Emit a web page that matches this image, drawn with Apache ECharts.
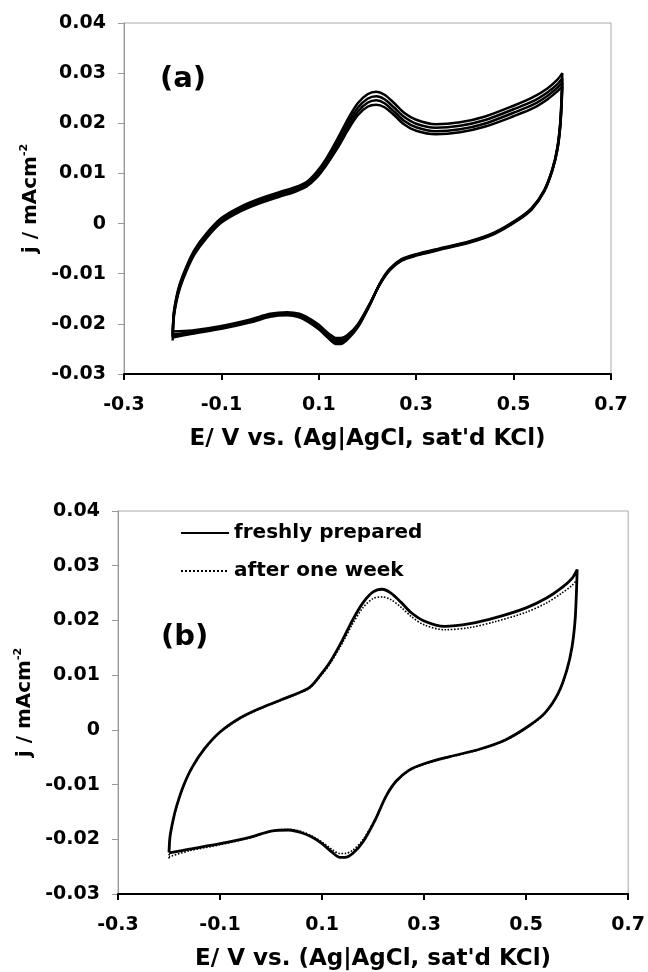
<!DOCTYPE html>
<html>
<head>
<meta charset="utf-8">
<script src="https://cdn.jsdelivr.net/npm/echarts@6/dist/echarts.min.js"></script>
<style>
html,body{margin:0;padding:0;background:#fff;}
#main{width:648px;height:972px;}
</style>
</head>
<body>
<div id="main"></div>
<script>
// Potential scan (V vs Ag|AgCl): anodic sweep -0.2 -> 0.6, then cathodic sweep 0.6 -> -0.2
var E_SCAN = [
  -0.200, -0.198, -0.192, -0.185, -0.172, -0.155, -0.130, -0.100, -0.060, -0.020, 0.020, 0.050, 0.075, 0.095, 0.115, 0.140,
  0.160, 0.180, 0.200, 0.218, 0.235, 0.255, 0.275, 0.300, 0.340, 0.390, 0.440, 0.500, 0.540, 0.570, 0.590, 0.600,
  0.599, 0.596, 0.590, 0.580, 0.563, 0.537, 0.505, 0.460, 0.410, 0.350, 0.300, 0.270, 0.245, 0.225, 0.205,
  0.180, 0.160, 0.145, 0.135, 0.120, 0.100, 0.080, 0.060, 0.035, 0.000, -0.040, -0.100, -0.160, -0.200
];

// Panel (a): repeated cycles, current density j (mA cm^-2)
var CYCLE_1 = [
  -0.0233, -0.0180, -0.0145, -0.0119, -0.0086, -0.0052, -0.0019, 0.0011, 0.0034, 0.0050, 0.0063, 0.0072, 0.0083, 0.0102, 0.0129, 0.0172,
  0.0209, 0.0240, 0.0258, 0.0263, 0.0257, 0.0240, 0.0221, 0.0207, 0.0198, 0.0202, 0.0213, 0.0235, 0.0252, 0.0270, 0.0287, 0.0300,
  0.0265, 0.0205, 0.0153, 0.0110, 0.0067, 0.0031, 0.0007, -0.0018, -0.0035, -0.0049, -0.0061, -0.0071, -0.0091, -0.0120, -0.0162,
  -0.0207, -0.0230, -0.0240, -0.0240, -0.0229, -0.0211, -0.0197, -0.0187, -0.0183, -0.0186, -0.0197, -0.0210, -0.0220, -0.0227
];
var CYCLE_2 = [
  -0.0227, -0.0183, -0.0148, -0.0122, -0.0089, -0.0055, -0.0022, 0.0008, 0.0031, 0.0047, 0.0060, 0.0069, 0.0080, 0.0098, 0.0124, 0.0165,
  0.0201, 0.0231, 0.0249, 0.0254, 0.0248, 0.0231, 0.0213, 0.0199, 0.0191, 0.0195, 0.0206, 0.0228, 0.0244, 0.0262, 0.0278, 0.0290,
  0.0258, 0.0201, 0.0151, 0.0109, 0.0066, 0.0030, 0.0006, -0.0019, -0.0036, -0.0050, -0.0062, -0.0072, -0.0092, -0.0121, -0.0161,
  -0.0205, -0.0227, -0.0236, -0.0236, -0.0226, -0.0208, -0.0194, -0.0185, -0.0181, -0.0184, -0.0195, -0.0208, -0.0218, -0.0224
];
var CYCLE_3 = [
  -0.0224, -0.0186, -0.0151, -0.0125, -0.0092, -0.0058, -0.0025, 0.0005, 0.0028, 0.0044, 0.0057, 0.0066, 0.0077, 0.0095, 0.0120, 0.0159,
  0.0194, 0.0223, 0.0241, 0.0246, 0.0240, 0.0223, 0.0205, 0.0192, 0.0184, 0.0188, 0.0199, 0.0221, 0.0237, 0.0255, 0.0271, 0.0281,
  0.0252, 0.0198, 0.0149, 0.0108, 0.0065, 0.0029, 0.0005, -0.0020, -0.0037, -0.0051, -0.0063, -0.0073, -0.0093, -0.0121, -0.0160,
  -0.0203, -0.0224, -0.0232, -0.0232, -0.0222, -0.0205, -0.0191, -0.0182, -0.0179, -0.0182, -0.0193, -0.0206, -0.0216, -0.0221
];
var CYCLE_4 = [
  -0.0221, -0.0189, -0.0154, -0.0128, -0.0095, -0.0061, -0.0028, 0.0002, 0.0025, 0.0041, 0.0054, 0.0063, 0.0074, 0.0091, 0.0116, 0.0153,
  0.0187, 0.0216, 0.0233, 0.0237, 0.0232, 0.0216, 0.0198, 0.0185, 0.0178, 0.0182, 0.0193, 0.0214, 0.0230, 0.0248, 0.0264, 0.0273,
  0.0246, 0.0195, 0.0147, 0.0107, 0.0064, 0.0028, 0.0004, -0.0021, -0.0038, -0.0052, -0.0064, -0.0074, -0.0094, -0.0122, -0.0159,
  -0.0201, -0.0221, -0.0228, -0.0228, -0.0219, -0.0202, -0.0189, -0.0180, -0.0177, -0.0180, -0.0191, -0.0204, -0.0213, -0.0215
];

// Panel (b)
var FRESH = [
  -0.0224, -0.0195, -0.0165, -0.0139, -0.0103, -0.0069, -0.0034, -0.0004, 0.0022, 0.0040, 0.0055, 0.0066, 0.0077, 0.0098, 0.0123, 0.0164,
  0.0201, 0.0232, 0.0252, 0.0257, 0.0250, 0.0233, 0.0214, 0.0199, 0.0189, 0.0194, 0.0205, 0.0223, 0.0241, 0.0260, 0.0277, 0.0293,
  0.0262, 0.0201, 0.0152, 0.0110, 0.0067, 0.0031, 0.0007, -0.0018, -0.0035, -0.0049, -0.0062, -0.0074, -0.0094, -0.0122, -0.0163,
  -0.0205, -0.0226, -0.0233, -0.0233, -0.0224, -0.0208, -0.0196, -0.0188, -0.0183, -0.0185, -0.0196, -0.0208, -0.0218, -0.0225
];
var ONE_WEEK = [
  -0.0235, -0.0198, -0.0166, -0.0140, -0.0104, -0.0070, -0.0035, -0.0005, 0.0021, 0.0039, 0.0054, 0.0065, 0.0076, 0.0096, 0.0120, 0.0159,
  0.0194, 0.0223, 0.0240, 0.0243, 0.0238, 0.0224, 0.0207, 0.0192, 0.0183, 0.0187, 0.0198, 0.0215, 0.0232, 0.0250, 0.0264, 0.0275,
  0.0255, 0.0199, 0.0151, 0.0109, 0.0066, 0.0030, 0.0006, -0.0019, -0.0036, -0.0050, -0.0063, -0.0075, -0.0095, -0.0122, -0.0161,
  -0.0201, -0.0220, -0.0226, -0.0226, -0.0219, -0.0205, -0.0194, -0.0186, -0.0182, -0.0185, -0.0197, -0.0210, -0.0221, -0.0232
];

var LEGEND_NAMES = ['freshly prepared', 'after one week'];
var PANEL_LABELS = ['(a)', '(b)'];
var X_TITLE = "E/ V vs. (Ag|AgCl, sat'd KCl)";

function pairs(js) { return E_SCAN.map(function (e, i) { return [e, js[i]]; }); }

var FONT = 'DejaVu Sans';
var labelStyle = { fontFamily: FONT, fontWeight: 'bold', fontSize: 19, color: '#000' };

function xAxisCfg(gi) {
  return {
    type: 'value', gridIndex: gi, min: -0.3, max: 0.7, interval: 0.2,
    name: X_TITLE, nameLocation: 'middle', nameGap: 54,
    nameTextStyle: { fontFamily: FONT, fontWeight: 'bold', fontSize: 23, color: '#000' },
    axisLine: { onZero: false, lineStyle: { color: '#000', width: 2 } },
    axisTick: { show: true, length: 6, lineStyle: { color: '#000', width: 2 } },
    axisLabel: Object.assign({ margin: 22, formatter: function (v) { return (Math.round(v * 10) / 10).toFixed(1); } }, labelStyle),
    splitLine: { show: false }
  };
}
function yAxisCfg(gi, gap) {
  return {
    type: 'value', gridIndex: gi, min: -0.03, max: 0.04, interval: 0.01,
    name: '{b|j / mAcm}{s|-2}', nameLocation: 'middle', nameGap: gap, nameRotate: 90,
    nameTextStyle: {
      fontFamily: FONT, fontWeight: 'bold', fontSize: 20, color: '#000',
      rich: {
        b: { fontFamily: FONT, fontWeight: 'bold', fontSize: 20, lineHeight: 24, color: '#000' },
        s: { fontFamily: FONT, fontWeight: 'bold', fontSize: 11, lineHeight: 11, verticalAlign: 'top', color: '#000' }
      }
    },
    axisLine: { onZero: false, lineStyle: { color: '#999', width: 1 } },
    axisTick: { show: true, length: 6, lineStyle: { color: '#999', width: 1 } },
    axisLabel: Object.assign({ margin: 18, formatter: function (v) { var r = Math.round(v * 100) / 100; return Math.abs(r) < 1e-9 ? '0' : r.toFixed(2); } }, labelStyle),
    splitLine: { show: false }
  };
}

function cvSeries(name, xi, js, width, type) {
  return {
    name: name, type: 'line', xAxisIndex: xi, yAxisIndex: xi,
    data: pairs(js), showSymbol: false, symbol: 'none', smooth: 0.3,
    color: '#000',
    itemStyle: { color: '#000' },
    lineStyle: { color: '#000', width: width, type: type || 'solid' },
    animation: false, z: type === 'dotted' ? 3 : 2
  };
}

var chart = echarts.init(document.getElementById('main'), null, { renderer: 'canvas' });
chart.setOption({
  backgroundColor: '#fff',
  animation: false,
  title: [
    { text: PANEL_LABELS[0], left: 155, top: 60, textStyle: { fontFamily: FONT, fontWeight: 'bold', fontSize: 29, color: '#000' } },
    { text: PANEL_LABELS[1], left: 156, top: 618, textStyle: { fontFamily: FONT, fontWeight: 'bold', fontSize: 29, color: '#000' } }
  ],
  legend: {
    data: LEGEND_NAMES, orient: 'vertical', left: 175, top: 518,
    itemWidth: 48, itemHeight: 12, itemGap: 18,
    itemStyle: { opacity: 0 },
    textStyle: { fontFamily: FONT, fontWeight: 'bold', fontSize: 20, color: '#000' }
  },
  grid: [
    { left: 124, right: 37, top: 23, height: 351, show: true, borderColor: '#aaa', borderWidth: 1, backgroundColor: 'transparent' },
    { left: 118, right: 18, top: 511, height: 384, show: true, borderColor: '#aaa', borderWidth: 1, backgroundColor: 'transparent' }
  ],
  xAxis: [xAxisCfg(0), xAxisCfg(1)],
  yAxis: [yAxisCfg(0, 80), yAxisCfg(1, 80)],
  series: [
    cvSeries('cycle 1', 0, CYCLE_1, 2.5),
    cvSeries('cycle 2', 0, CYCLE_2, 2.5),
    cvSeries('cycle 3', 0, CYCLE_3, 2.5),
    cvSeries('cycle 4', 0, CYCLE_4, 2.5),
    cvSeries(LEGEND_NAMES[0], 1, FRESH, 2.8),
    cvSeries(LEGEND_NAMES[1], 1, ONE_WEEK, 1.6, 'dotted')
  ]
});
</script>
</body>
</html>
